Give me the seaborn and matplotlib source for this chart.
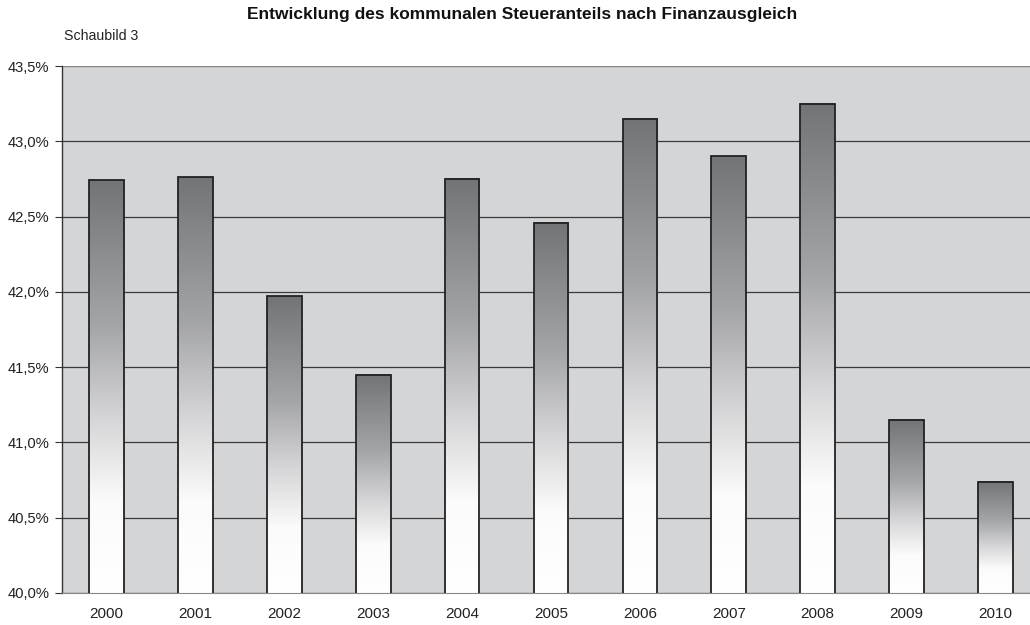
import numpy as np
import pandas as pd
import seaborn as sns
import matplotlib.pyplot as plt
from matplotlib.colors import LinearSegmentedColormap
from matplotlib.ticker import FuncFormatter, FixedLocator

years = ["2000", "2001", "2002", "2003", "2004", "2005", "2006", "2007", "2008", "2009", "2010"]
anteil = [42.74, 42.76, 41.97, 41.45, 42.75, 42.46, 43.15, 42.90, 43.25, 41.15, 40.74]

df = pd.DataFrame({"jahr": years, "anteil": anteil})

sns.set_style("white")
plt.rcParams["font.family"] = ["Liberation Sans", "DejaVu Sans"]

fig = plt.figure(figsize=(10.3, 6.25), dpi=100)
ax = fig.add_axes([62 / 1030, 32 / 625, 978 / 1030, 527 / 625])
ax.set_facecolor("#d4d5d7")

sns.barplot(data=df, x="jahr", y="anteil", ax=ax, width=0.39,
            facecolor="none", edgecolor="#222222", linewidth=1.3, zorder=3)

# gradient fill inside each bar (white at bottom, dark grey at top)
cmap = LinearSegmentedColormap.from_list("bar", [
    (0.0, "#ffffff"), (0.22, "#fbfbfb"), (0.42, "#d6d6d8"),
    (0.65, "#a4a5a8"), (1.0, "#737478")])
grad = np.linspace(0, 1, 256).reshape(-1, 1)
for p in ax.patches:
    x0, y0 = p.get_x(), 40.0
    x1, y1 = p.get_x() + p.get_width(), p.get_height()
    ax.imshow(grad, cmap=cmap, origin="lower", aspect="auto",
              extent=(x0, x1, y0, y1), zorder=2, interpolation="bilinear")
ax.set_xlim(-0.5, 10.5)
ax.set_ylim(40.0, 43.5)

ax.yaxis.set_major_locator(FixedLocator(np.arange(40.0, 43.51, 0.5)))
ax.yaxis.set_major_formatter(FuncFormatter(lambda v, _: f"{v:.1f}%".replace(".", ",")))
ax.grid(axis="y", color="#3a3a3a", linewidth=0.9, zorder=1)
ax.set_axisbelow(True)

ax.xaxis.set_minor_locator(FixedLocator(np.arange(-0.5, 10.6, 1.0)))
ax.tick_params(axis="x", which="major", length=0, pad=10, labelsize=11, labelcolor="#222222")
ax.tick_params(axis="x", which="minor", length=5, color="#333333", direction="out")
ax.tick_params(axis="y", length=5, color="#333333", direction="out", left=True,
               labelsize=10.6, pad=4, labelcolor="#222222")

for s in ["top", "right"]:
    ax.spines[s].set_visible(False)
ax.spines["left"].set_color("#333333")
ax.spines["bottom"].set_color("#888888")
ax.spines["left"].set_linewidth(1.0)
ax.set_xlabel("")
ax.set_ylabel("")
ax.axhline(43.5, color="#9a9a9a", linewidth=1.2, zorder=1)

fig.text(522 / 1030, 1 - 15 / 625, "Entwicklung des kommunalen Steueranteils nach Finanzausgleich",
         ha="center", va="center", fontsize=12.5, fontweight="bold", color="#111111")
fig.text(64 / 1030, 1 - 36 / 625, "Schaubild 3", ha="left", va="center",
         fontsize=10.2, color="#222222")

fig.savefig("out.png", dpi=100, facecolor="white")
